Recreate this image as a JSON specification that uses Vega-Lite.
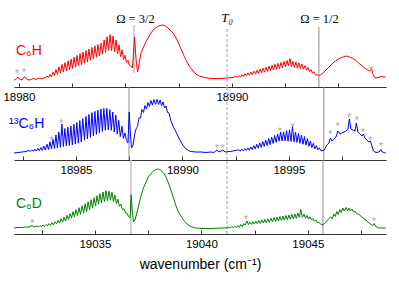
{
"$schema": "https://vega.github.io/schema/vega-lite/v6.json",
"padding": {"left": 2, "top": 0, "right": 0, "bottom": 0},
"background": "white",
"spacing": 0,
"bounds": "flush",
"config": {"view": {"stroke": null},
 "axis": {"grid": false, "domainColor": "#333333", "tickColor": "#333333", "tickSize": -4, "labelPadding": 8, "labelFont": "Liberation Sans", "labelFontSize": 11.5, "labelColor": "#000000", "labelFlush": false, "labelOverlap": false, "format": "d"}},
"datasets": {
"s1": [{"w":18979.77,"i":7},{"w":18979.86,"i":7.5},{"w":18979.96,"i":10},{"w":18980.05,"i":7.5},{"w":18980.15,"i":7},{"w":18980.26,"i":10.5},{"w":18980.38,"i":7.5},{"w":18980.52,"i":7},{"w":18980.66,"i":8.5},{"w":18980.80,"i":7.5},{"w":18980.94,"i":9},{"w":18981.08,"i":8},{"w":18981.23,"i":9.5},
{"w":18981.32,"i":11},{"w":18981.39,"i":9.4},{"w":18981.46,"i":12.5},{"w":18981.53,"i":10.2},{"w":18981.60,"i":14.8},{"w":18981.67,"i":11.4},{"w":18981.74,"i":17.5},{"w":18981.81,"i":12.6},{"w":18981.88,"i":20.2},{"w":18981.95,"i":13.8},{"w":18982.02,"i":22.6},{"w":18982.09,"i":15},{"w":18982.16,"i":24.4},{"w":18982.24,"i":16.2},{"w":18982.31,"i":26.2},{"w":18982.38,"i":17.4},{"w":18982.45,"i":28},{"w":18982.52,"i":18.6},{"w":18982.59,"i":29.8},{"w":18982.66,"i":19.8},{"w":18982.73,"i":31.6},{"w":18982.80,"i":21},{"w":18982.87,"i":33.4},{"w":18982.94,"i":22.2},{"w":18983.01,"i":35},{"w":18983.08,"i":23.8},{"w":18983.15,"i":36.5},{"w":18983.22,"i":25.2},{"w":18983.29,"i":38},{"w":18983.36,"i":26.8},{"w":18983.43,"i":39.5},{"w":18983.50,"i":28.2},{"w":18983.57,"i":41},{"w":18983.64,"i":29.8},{"w":18983.71,"i":42.5},{"w":18983.78,"i":31.2},{"w":18983.86,"i":44},{"w":18983.93,"i":32.9},{"w":18984.00,"i":47},{"w":18984.07,"i":34.7},{"w":18984.14,"i":50.3},{"w":18984.21,"i":36.7},{"w":18984.28,"i":52.5},{"w":18984.35,"i":36.4},{"w":18984.42,"i":51},{"w":18984.49,"i":35},{"w":18984.56,"i":47},{"w":18984.63,"i":33},{"w":18984.70,"i":42.2},{"w":18984.77,"i":30.4},{"w":18984.84,"i":37.2},{"w":18984.91,"i":27.6},{"w":18984.98,"i":31.8},{"w":18985.05,"i":24.5},{"w":18985.12,"i":26.7},{"w":18985.19,"i":21.7},
{"w":18985.26,"i":21},{"w":18985.33,"i":19},{"w":18985.43,"i":50},{"w":18985.50,"i":27},{"w":18985.57,"i":15},{"w":18985.64,"i":23},{"w":18985.73,"i":34},{"w":18985.87,"i":41},{"w":18986.01,"i":47},{"w":18986.20,"i":54},{"w":18986.34,"i":58},{"w":18986.48,"i":60},{"w":18986.62,"i":61.5},{"w":18986.77,"i":62},{"w":18986.91,"i":60.5},{"w":18987.05,"i":58},{"w":18987.19,"i":55},{"w":18987.33,"i":51},{"w":18987.47,"i":45},{"w":18987.61,"i":38},{"w":18987.75,"i":31},{"w":18987.89,"i":25},{"w":18988.03,"i":20},{"w":18988.17,"i":16},{"w":18988.31,"i":13},{"w":18988.46,"i":11},{"w":18988.64,"i":10},{"w":18988.83,"i":9},{"w":18989.02,"i":8.5},{"w":18989.25,"i":8.5},{"w":18989.49,"i":8.5},{"w":18989.77,"i":9},{"w":18990.05,"i":9.5},
{"w":18990.19,"i":10.5},{"w":18990.26,"i":9.6},{"w":18990.33,"i":11.4},{"w":18990.40,"i":9.95},{"w":18990.47,"i":12.3},{"w":18990.54,"i":10.5},{"w":18990.61,"i":13.2},{"w":18990.68,"i":11.1},{"w":18990.75,"i":14.1},{"w":18990.82,"i":11.7},{"w":18990.89,"i":15},{"w":18990.96,"i":12.35},{"w":18991.03,"i":15.9},{"w":18991.11,"i":12.9},{"w":18991.18,"i":16.8},{"w":18991.25,"i":13.5},{"w":18991.32,"i":17.7},{"w":18991.39,"i":14.15},{"w":18991.46,"i":18.7},{"w":18991.53,"i":14.85},{"w":18991.60,"i":19.75},{"w":18991.67,"i":15.65},{"w":18991.74,"i":20.8},{"w":18991.81,"i":16.35},{"w":18991.88,"i":21.8},{"w":18991.95,"i":17},{"w":18992.02,"i":22.7},{"w":18992.09,"i":17.6},{"w":18992.16,"i":23.6},{"w":18992.23,"i":18.2},{"w":18992.30,"i":24.5},{"w":18992.37,"i":19},{"w":18992.44,"i":25.5},{"w":18992.51,"i":20.1},{"w":18992.58,"i":26.6},{"w":18992.65,"i":21},{"w":18992.72,"i":28.5},{"w":18992.79,"i":20.1},{"w":18992.86,"i":25.75},{"w":18992.93,"i":19.4},{"w":18993.00,"i":25},{"w":18993.07,"i":18.8},{"w":18993.14,"i":24.1},{"w":18993.21,"i":18.55},{"w":18993.28,"i":23},{"w":18993.35,"i":17.75},{"w":18993.43,"i":21.5},{"w":18993.50,"i":16.75},{"w":18993.57,"i":19.6},{"w":18993.64,"i":15.25},{"w":18993.71,"i":17.5},{"w":18993.78,"i":13.75},{"w":18993.85,"i":15.4},{"w":18993.92,"i":12.25},
{"w":18994.02,"i":12},{"w":18994.11,"i":11.5},{"w":18994.23,"i":13},{"w":18994.37,"i":16},{"w":18994.51,"i":19},{"w":18994.65,"i":22},{"w":18994.79,"i":25},{"w":18994.93,"i":27},{"w":18995.08,"i":29},{"w":18995.22,"i":30},{"w":18995.36,"i":31},{"w":18995.50,"i":30},{"w":18995.64,"i":29},{"w":18995.78,"i":27},{"w":18995.92,"i":24.5},{"w":18996.06,"i":22},{"w":18996.20,"i":19.5},{"w":18996.34,"i":17.5},{"w":18996.46,"i":16},{"w":18996.55,"i":18.5},{"w":18996.63,"i":12},{"w":18996.72,"i":9},{"w":18996.86,"i":9.5},{"w":18997.00,"i":10.5},{"w":18997.14,"i":10},{"w":18997.22,"i":10}],
"s2": [{"w":18982.09,"i":7},{"w":18982.28,"i":7.5},{"w":18982.47,"i":8},{"w":18982.65,"i":8.5},
{"w":18982.79,"i":9.5},{"w":18982.86,"i":8.6},{"w":18982.93,"i":10.1},{"w":18983.00,"i":8.8},{"w":18983.07,"i":10.8},{"w":18983.14,"i":9},{"w":18983.21,"i":11.6},{"w":18983.28,"i":9.3},{"w":18983.35,"i":12.5},{"w":18983.42,"i":9.6},{"w":18983.49,"i":14},{"w":18983.56,"i":9.9},{"w":18983.64,"i":15.8},{"w":18983.71,"i":10.5},{"w":18983.78,"i":18.2},{"w":18983.85,"i":11},{"w":18983.92,"i":21},{"w":18983.99,"i":11.5},{"w":18984.06,"i":25},{"w":18984.13,"i":12},{"w":18984.20,"i":28},{"w":18984.27,"i":12.7},{"w":18984.34,"i":36},{"w":18984.41,"i":13.5},{"w":18984.48,"i":31.5},{"w":18984.55,"i":14},{"w":18984.62,"i":32.8},{"w":18984.69,"i":14.5},{"w":18984.76,"i":34},{"w":18984.83,"i":15.1},{"w":18984.90,"i":35.8},{"w":18984.97,"i":16},{"w":18985.04,"i":37.6},{"w":18985.11,"i":16.8},{"w":18985.18,"i":39.4},{"w":18985.25,"i":18.2},{"w":18985.32,"i":41.4},{"w":18985.40,"i":19.8},{"w":18985.47,"i":43.5},{"w":18985.54,"i":21.2},{"w":18985.61,"i":45.6},{"w":18985.68,"i":22.7},{"w":18985.75,"i":47.4},{"w":18985.82,"i":24.2},{"w":18985.89,"i":48.6},{"w":18985.96,"i":25.7},{"w":18986.03,"i":49.8},{"w":18986.10,"i":27.2},{"w":18986.17,"i":51},{"w":18986.24,"i":28.6},{"w":18986.31,"i":51.6},{"w":18986.38,"i":29.8},{"w":18986.45,"i":51.6},{"w":18986.52,"i":30},{"w":18986.59,"i":50.4},{"w":18986.66,"i":29.7},{"w":18986.73,"i":48},{"w":18986.80,"i":28},{"w":18986.87,"i":45},{"w":18986.94,"i":25.8},{"w":18987.01,"i":39.6},{"w":18987.08,"i":23.4},{"w":18987.16,"i":33.8},{"w":18987.23,"i":21.7},{"w":18987.30,"i":27},{"w":18987.37,"i":19.5},
{"w":18987.44,"i":17},{"w":18987.50,"i":48},{"w":18987.56,"i":25},{"w":18987.61,"i":12},{"w":18987.68,"i":15},{"w":18987.75,"i":25},
{"w":18987.82,"i":31},{"w":18987.89,"i":33.5},{"w":18987.96,"i":42},{"w":18988.03,"i":42},{"w":18988.10,"i":50.5},{"w":18988.17,"i":47.5},{"w":18988.24,"i":54.5},{"w":18988.31,"i":51},{"w":18988.38,"i":57.5},{"w":18988.45,"i":53.5},{"w":18988.52,"i":59.5},{"w":18988.59,"i":55},{"w":18988.66,"i":60.5},{"w":18988.74,"i":55.7},{"w":18988.81,"i":60.7},{"w":18988.88,"i":55.5},{"w":18988.95,"i":60},{"w":18989.02,"i":54.3},{"w":18989.09,"i":58},{"w":18989.16,"i":52},{"w":18989.23,"i":54},{"w":18989.30,"i":47.5},{"w":18989.37,"i":47},
{"w":18989.46,"i":39},{"w":18989.58,"i":33},{"w":18989.70,"i":28},{"w":18989.81,"i":23},{"w":18989.93,"i":18},{"w":18990.05,"i":14},{"w":18990.17,"i":11},{"w":18990.28,"i":9.5},{"w":18990.40,"i":8.5},{"w":18990.64,"i":8},{"w":18990.87,"i":8},{"w":18991.10,"i":7.5},{"w":18991.34,"i":8},{"w":18991.48,"i":7.5},{"w":18991.62,"i":10},{"w":18991.72,"i":8},{"w":18991.90,"i":10},{"w":18992.00,"i":8},{"w":18992.19,"i":8.5},{"w":18992.37,"i":9},
{"w":18992.65,"i":10.2},{"w":18992.72,"i":8.9},{"w":18992.79,"i":10.75},{"w":18992.86,"i":9.2},{"w":18992.93,"i":11.35},{"w":18993.00,"i":9.55},{"w":18993.07,"i":12.1},{"w":18993.14,"i":9.85},{"w":18993.21,"i":13},{"w":18993.28,"i":10.35},{"w":18993.35,"i":14.35},{"w":18993.42,"i":11.15},{"w":18993.49,"i":15.7},{"w":18993.56,"i":11.85},{"w":18993.63,"i":17.05},{"w":18993.70,"i":12.65},{"w":18993.77,"i":18.5},{"w":18993.84,"i":13.55},{"w":18993.91,"i":20},{"w":18993.98,"i":14.45},{"w":18994.05,"i":21.5},{"w":18994.12,"i":15.35},{"w":18994.19,"i":23},{"w":18994.26,"i":16.5},{"w":18994.33,"i":24.5},{"w":18994.40,"i":17.6},{"w":18994.47,"i":26},{"w":18994.54,"i":18.85},{"w":18994.61,"i":28},{"w":18994.68,"i":19},{"w":18994.75,"i":28.2},{"w":18994.82,"i":19},{"w":18994.89,"i":29.3},{"w":18994.96,"i":18.75},{"w":18995.03,"i":30.2},{"w":18995.10,"i":18.5},{"w":18995.17,"i":33.5},{"w":18995.24,"i":18.1},{"w":18995.31,"i":28},{"w":18995.38,"i":17.55},{"w":18995.45,"i":26.5},{"w":18995.52,"i":16.65},{"w":18995.59,"i":25},{"w":18995.66,"i":15.75},{"w":18995.73,"i":23.5},{"w":18995.80,"i":14.85},{"w":18995.87,"i":21.4},{"w":18995.94,"i":13.6},{"w":18996.01,"i":19},{"w":18996.08,"i":12.4},{"w":18996.15,"i":16.6},{"w":18996.22,"i":11.2},{"w":18996.29,"i":14.3},{"w":18996.36,"i":10.25},{"w":18996.43,"i":12.2},{"w":18996.50,"i":9.35},
{"w":18996.62,"i":9.5},{"w":18996.69,"i":11},{"w":18996.78,"i":15},{"w":18996.88,"i":17},{"w":18996.95,"i":22},{"w":18997.02,"i":19},{"w":18997.11,"i":21},{"w":18997.21,"i":23},{"w":18997.30,"i":29},{"w":18997.40,"i":26},{"w":18997.49,"i":27},{"w":18997.58,"i":28},{"w":18997.68,"i":29},{"w":18997.77,"i":30.5},{"w":18997.84,"i":41},{"w":18997.91,"i":31},{"w":18998.01,"i":30},{"w":18998.10,"i":29},{"w":18998.17,"i":37},{"w":18998.24,"i":28},{"w":18998.33,"i":26},{"w":18998.43,"i":24},{"w":18998.50,"i":26},{"w":18998.57,"i":22},{"w":18998.66,"i":20},{"w":18998.76,"i":18},{"w":18998.83,"i":19},{"w":18998.90,"i":14},{"w":18998.97,"i":9},{"w":18999.09,"i":7.5},{"w":18999.23,"i":8},{"w":18999.32,"i":10.5},{"w":18999.39,"i":8},{"w":18999.55,"i":7}],
"s3": [{"w":19031.20,"i":6},{"w":19031.39,"i":6.5},{"w":19031.58,"i":6.5},{"w":19031.76,"i":7},{"w":19031.90,"i":7},{"w":19032.05,"i":8.5},{"w":19032.14,"i":7},
{"w":19032.28,"i":8},{"w":19032.35,"i":7},{"w":19032.42,"i":8.5},{"w":19032.49,"i":7.2},{"w":19032.56,"i":9},{"w":19032.63,"i":7.6},{"w":19032.70,"i":9.5},{"w":19032.77,"i":8.2},{"w":19032.84,"i":10.4},{"w":19032.91,"i":8.7},{"w":19032.98,"i":11.3},{"w":19033.05,"i":9.2},{"w":19033.13,"i":12.2},{"w":19033.20,"i":10.2},{"w":19033.27,"i":13.6},{"w":19033.34,"i":11},{"w":19033.41,"i":15.3},{"w":19033.48,"i":11.7},{"w":19033.55,"i":17},{"w":19033.62,"i":13},{"w":19033.69,"i":18.7},{"w":19033.76,"i":14.3},{"w":19033.83,"i":20.4},{"w":19033.90,"i":16.2},{"w":19033.97,"i":22.3},{"w":19034.04,"i":17.2},{"w":19034.11,"i":24.3},{"w":19034.18,"i":18.4},{"w":19034.25,"i":26.3},{"w":19034.32,"i":19.6},{"w":19034.40,"i":28.3},{"w":19034.47,"i":20.8},{"w":19034.54,"i":30.3},{"w":19034.61,"i":22.3},{"w":19034.68,"i":32.3},{"w":19034.75,"i":24.2},{"w":19034.82,"i":34.3},{"w":19034.89,"i":26.1},{"w":19034.96,"i":36.3},{"w":19035.03,"i":28},{"w":19035.10,"i":38.3},{"w":19035.17,"i":29.9},{"w":19035.24,"i":40.3},{"w":19035.31,"i":31.2},{"w":19035.38,"i":42},{"w":19035.45,"i":32.4},{"w":19035.52,"i":43.5},{"w":19035.59,"i":33.3},{"w":19035.66,"i":42.9},{"w":19035.73,"i":33.8},{"w":19035.80,"i":41.6},{"w":19035.87,"i":32.5},{"w":19035.94,"i":38.9},{"w":19036.01,"i":30.4},{"w":19036.08,"i":34.8},{"w":19036.15,"i":27.7},{"w":19036.22,"i":30},{"w":19036.29,"i":24.4},{"w":19036.37,"i":25.2},{"w":19036.44,"i":20.8},{"w":19036.51,"i":20.7},{"w":19036.58,"i":17.4},
{"w":19036.65,"i":16},{"w":19036.70,"i":39},{"w":19036.75,"i":24},{"w":19036.81,"i":12},{"w":19036.88,"i":14},{"w":19036.97,"i":21},{"w":19037.07,"i":30},{"w":19037.16,"i":38},{"w":19037.28,"i":46},{"w":19037.40,"i":52},{"w":19037.51,"i":57},{"w":19037.63,"i":60.5},{"w":19037.75,"i":63},{"w":19037.87,"i":64.5},{"w":19037.98,"i":65},{"w":19038.10,"i":63.5},{"w":19038.22,"i":61},{"w":19038.34,"i":57},{"w":19038.45,"i":51},{"w":19038.57,"i":44},{"w":19038.69,"i":36},{"w":19038.81,"i":28},{"w":19038.92,"i":22},{"w":19039.04,"i":18},{"w":19039.16,"i":14},{"w":19039.28,"i":11},{"w":19039.42,"i":8.5},{"w":19039.56,"i":7},{"w":19039.74,"i":6},{"w":19039.98,"i":5.5},{"w":19040.45,"i":5.5},{"w":19040.92,"i":6},{"w":19041.20,"i":6},
{"w":19041.29,"i":7},{"w":19041.36,"i":5.95},{"w":19041.43,"i":7.5},{"w":19041.50,"i":6.15},{"w":19041.57,"i":7.9},{"w":19041.64,"i":6.4},{"w":19041.71,"i":8.4},{"w":19041.78,"i":6.7},{"w":19041.85,"i":9.5},{"w":19041.92,"i":7.4},{"w":19041.99,"i":10.4},{"w":19042.06,"i":8.9},{"w":19042.14,"i":13},{"w":19042.21,"i":9.4},{"w":19042.28,"i":11.8},{"w":19042.35,"i":9.6},{"w":19042.42,"i":12.2},{"w":19042.49,"i":9.9},{"w":19042.56,"i":12.9},{"w":19042.63,"i":10.2},{"w":19042.70,"i":13.5},{"w":19042.77,"i":10.5},{"w":19042.84,"i":14.1},{"w":19042.91,"i":10.9},{"w":19042.98,"i":14.6},{"w":19043.05,"i":11.2},{"w":19043.12,"i":15.1},{"w":19043.19,"i":11.7},{"w":19043.27,"i":15.7},{"w":19043.34,"i":12.2},{"w":19043.41,"i":16.3},{"w":19043.48,"i":12.5},{"w":19043.55,"i":16.8},{"w":19043.62,"i":12.9},{"w":19043.69,"i":17.4},{"w":19043.76,"i":13.4},{"w":19043.83,"i":18},{"w":19043.90,"i":13.8},{"w":19043.97,"i":18.5},{"w":19044.04,"i":14.2},{"w":19044.11,"i":19},{"w":19044.18,"i":14.7},{"w":19044.25,"i":19.6},{"w":19044.32,"i":15.1},{"w":19044.39,"i":20.2},{"w":19044.46,"i":15.6},{"w":19044.53,"i":21},{"w":19044.60,"i":16.6},{"w":19044.67,"i":24.5},{"w":19044.74,"i":16.7},{"w":19044.82,"i":19.8},{"w":19044.89,"i":15.7},{"w":19044.96,"i":18.6},{"w":19045.03,"i":14.9},{"w":19045.10,"i":17.2},{"w":19045.17,"i":13.9},{"w":19045.24,"i":15.7},{"w":19045.31,"i":12.8},{"w":19045.38,"i":14},{"w":19045.45,"i":11.3},{"w":19045.52,"i":11.6},{"w":19045.59,"i":10},
{"w":19045.71,"i":9},{"w":19045.80,"i":11},{"w":19045.89,"i":13},{"w":19045.99,"i":15.5},{"w":19046.08,"i":17},{"w":19046.15,"i":15},{"w":19046.22,"i":20},{"w":19046.29,"i":17.5},{"w":19046.36,"i":22.5},{"w":19046.43,"i":19.5},{"w":19046.50,"i":24.5},{"w":19046.57,"i":21.5},{"w":19046.64,"i":26},{"w":19046.71,"i":23},{"w":19046.79,"i":26.5},{"w":19046.86,"i":23.5},{"w":19046.93,"i":26},{"w":19047.00,"i":23},{"w":19047.07,"i":25},{"w":19047.14,"i":22},{"w":19047.21,"i":23},{"w":19047.28,"i":20.5},{"w":19047.40,"i":19.5},{"w":19047.54,"i":17},{"w":19047.68,"i":14.5},{"w":19047.82,"i":12},{"w":19047.96,"i":9.5},{"w":19048.05,"i":8.5},{"w":19048.12,"i":10.5},{"w":19048.19,"i":7.5},{"w":19048.34,"i":6},{"w":19048.48,"i":6},{"w":19048.66,"i":6}],
"rules": [{"p":1,"w":18985.40,"lo":14,"hi":62,"k":"light"},{"p":1,"w":18994.08,"lo":0,"hi":60,"k":"dark"},{"p":1,"w":18989.77,"lo":0,"hi":60,"k":"dash"},
{"p":2,"w":18987.49,"lo":0,"hi":73,"k":"dark"},{"p":2,"w":18996.64,"lo":0,"hi":73,"k":"dark"},{"p":2,"w":18992.09,"lo":0,"hi":73,"k":"dash"},
{"p":3,"w":19036.69,"lo":0,"hi":74,"k":"light"},{"p":3,"w":19045.71,"lo":0,"hi":74,"k":"dark"},{"p":3,"w":19041.20,"lo":0,"hi":74,"k":"dash"}],
"stars": [{"p":1,"w":18979.91,"i":15},{"p":1,"w":18980.24,"i":16},{"p":1,"w":18996.53,"i":18},
{"p":2,"w":18983.86,"i":20.7},{"p":2,"w":18984.30,"i":37.7},{"p":2,"w":18991.62,"i":13.3},{"p":2,"w":18991.89,"i":13.3},{"p":2,"w":18994.58,"i":30},{"p":2,"w":18995.18,"i":34.3},{"p":2,"w":18996.94,"i":26.7},{"p":2,"w":18997.29,"i":35},{"p":2,"w":18997.83,"i":44.3},{"p":2,"w":18998.18,"i":40.7},{"p":2,"w":18998.46,"i":29.3},{"p":2,"w":18998.82,"i":20.7},{"p":2,"w":18999.32,"i":15},
{"p":3,"w":19032.05,"i":12},{"p":3,"w":19042.09,"i":16},{"p":3,"w":19048.10,"i":14}],
"labels": [{"p":1,"w":18979.86,"i":32,"t":"C₆H"},{"p":2,"w":18981.86,"i":32,"t":"¹³C₆H"},{"p":3,"w":19031.29,"i":26,"t":"C₆D"}],
"notes": [{"w":18985.47,"i":64,"t":"Ω = 3/2","k":"o"},{"w":18994.11,"i":64,"t":"Ω = 1/2","k":"o"},{"w":18989.77,"i":65,"t":"T₀","k":"t"}]
},
"vconcat": [
{"width": 372, "height": 87,
 "encoding": {"x": {"field": "w", "type": "quantitative", "scale": {"domain": [18979.77, 18997.23], "nice": false, "zero": false}, "axis": {"values": [18980, 18982.5, 18985, 18987.5, 18990, 18992.5, 18995], "labelExpr": "datum.value % 10 === 0 ? datum.label : ''", "title": null}},
  "y": {"field": "i", "type": "quantitative", "scale": {"domain": [0, 87], "nice": false, "zero": false}, "axis": null}},
 "layer": [
  {"data": {"name": "rules"}, "transform": [{"filter": "datum.p === 1 && datum.k === 'light'"}], "mark": {"type": "rule", "color": "#c4c4c4", "strokeWidth": 1.6}, "encoding": {"y": {"field": "lo", "type": "quantitative", "scale": {"domain": [0, 87], "nice": false, "zero": false}, "axis": null}, "y2": {"field": "hi"}}},
  {"data": {"name": "rules"}, "transform": [{"filter": "datum.p === 1 && datum.k === 'dark'"}], "mark": {"type": "rule", "color": "#8c8c8c", "strokeWidth": 1}, "encoding": {"y": {"field": "lo", "type": "quantitative", "scale": {"domain": [0, 87], "nice": false, "zero": false}, "axis": null}, "y2": {"field": "hi"}}},
  {"data": {"name": "rules"}, "transform": [{"filter": "datum.p === 1 && datum.k === 'dash'"}], "mark": {"type": "rule", "color": "#c0c0c0", "strokeWidth": 1.5, "strokeDash": [3, 2]}, "encoding": {"y": {"field": "lo", "type": "quantitative", "scale": {"domain": [0, 87], "nice": false, "zero": false}, "axis": null}, "y2": {"field": "hi"}}},
  {"data": {"name": "s1"}, "mark": {"type": "line", "color": "#ff0000", "strokeWidth": 1}},
  {"data": {"name": "stars"}, "transform": [{"filter": "datum.p === 1"}], "mark": {"type": "text", "text": "*", "color": "#aaaaaa", "font": "Liberation Sans", "fontSize": 11, "baseline": "middle", "align": "center", "dy": 2}},
  {"data": {"name": "labels"}, "transform": [{"filter": "datum.p === 1"}], "mark": {"type": "text", "color": "#ff0000", "font": "Liberation Sans", "fontSize": 14, "align": "left", "baseline": "alphabetic"}, "encoding": {"text": {"field": "t"}}},
  {"data": {"name": "notes"}, "transform": [{"filter": "datum.k === 'o'"}], "mark": {"type": "text", "color": "#000000", "font": "Liberation Serif", "fontSize": 12.5, "align": "center", "baseline": "alphabetic"}, "encoding": {"text": {"field": "t"}}},
  {"data": {"name": "notes"}, "transform": [{"filter": "datum.k === 't'"}], "mark": {"type": "text", "color": "#000000", "font": "Liberation Serif", "fontSize": 13, "fontStyle": "italic", "align": "center", "baseline": "alphabetic"}, "encoding": {"text": {"field": "t"}}}
 ]},
{"width": 372, "height": 73,
 "encoding": {"x": {"field": "w", "type": "quantitative", "scale": {"domain": [18982.09, 18999.56], "nice": false, "zero": false}, "axis": {"values": [18982.5, 18985, 18987.5, 18990, 18992.5, 18995, 18997.5], "labelExpr": "datum.value % 5 === 0 ? datum.label : ''", "title": null}},
  "y": {"field": "i", "type": "quantitative", "scale": {"domain": [0, 73], "nice": false, "zero": false}, "axis": null}},
 "layer": [
  {"data": {"name": "rules"}, "transform": [{"filter": "datum.p === 2 && datum.k === 'dark'"}], "mark": {"type": "rule", "color": "#8c8c8c", "strokeWidth": 1}, "encoding": {"y": {"field": "lo", "type": "quantitative", "scale": {"domain": [0, 73], "nice": false, "zero": false}, "axis": null}, "y2": {"field": "hi"}}},
  {"data": {"name": "rules"}, "transform": [{"filter": "datum.p === 2 && datum.k === 'dash'"}], "mark": {"type": "rule", "color": "#c0c0c0", "strokeWidth": 1.5, "strokeDash": [3, 2]}, "encoding": {"y": {"field": "lo", "type": "quantitative", "scale": {"domain": [0, 73], "nice": false, "zero": false}, "axis": null}, "y2": {"field": "hi"}}},
  {"data": {"name": "s2"}, "mark": {"type": "line", "color": "#0000ff", "strokeWidth": 1}},
  {"data": {"name": "stars"}, "transform": [{"filter": "datum.p === 2"}], "mark": {"type": "text", "text": "*", "color": "#aaaaaa", "font": "Liberation Sans", "fontSize": 11, "baseline": "middle", "align": "center", "dy": 2}},
  {"data": {"name": "labels"}, "transform": [{"filter": "datum.p === 2"}], "mark": {"type": "text", "color": "#0000ff", "font": "Liberation Sans", "fontSize": 14, "align": "left", "baseline": "alphabetic"}, "encoding": {"text": {"field": "t"}}}
 ]},
{"width": 372, "height": 74,
 "encoding": {"x": {"field": "w", "type": "quantitative", "scale": {"domain": [19031.20, 19048.67], "nice": false, "zero": false}, "axis": {"values": [19032.5, 19035, 19037.5, 19040, 19042.5, 19045, 19047.5], "labelExpr": "datum.value % 5 === 0 ? datum.label : ''", "title": "wavenumber (cm⁻¹)", "titleFont": "Liberation Sans", "titleFontSize": 14, "titleFontWeight": "normal", "titleColor": "#000000", "titlePadding": 8}},
  "y": {"field": "i", "type": "quantitative", "scale": {"domain": [0, 74], "nice": false, "zero": false}, "axis": null}},
 "layer": [
  {"data": {"name": "rules"}, "transform": [{"filter": "datum.p === 3 && datum.k === 'light'"}], "mark": {"type": "rule", "color": "#c4c4c4", "strokeWidth": 1.6}, "encoding": {"y": {"field": "lo", "type": "quantitative", "scale": {"domain": [0, 74], "nice": false, "zero": false}, "axis": null}, "y2": {"field": "hi"}}},
  {"data": {"name": "rules"}, "transform": [{"filter": "datum.p === 3 && datum.k === 'dark'"}], "mark": {"type": "rule", "color": "#8c8c8c", "strokeWidth": 1}, "encoding": {"y": {"field": "lo", "type": "quantitative", "scale": {"domain": [0, 74], "nice": false, "zero": false}, "axis": null}, "y2": {"field": "hi"}}},
  {"data": {"name": "rules"}, "transform": [{"filter": "datum.p === 3 && datum.k === 'dash'"}], "mark": {"type": "rule", "color": "#c0c0c0", "strokeWidth": 1.5, "strokeDash": [3, 2]}, "encoding": {"y": {"field": "lo", "type": "quantitative", "scale": {"domain": [0, 74], "nice": false, "zero": false}, "axis": null}, "y2": {"field": "hi"}}},
  {"data": {"name": "s3"}, "mark": {"type": "line", "color": "#008000", "strokeWidth": 1}},
  {"data": {"name": "stars"}, "transform": [{"filter": "datum.p === 3"}], "mark": {"type": "text", "text": "*", "color": "#aaaaaa", "font": "Liberation Sans", "fontSize": 11, "baseline": "middle", "align": "center", "dy": 2}},
  {"data": {"name": "labels"}, "transform": [{"filter": "datum.p === 3"}], "mark": {"type": "text", "color": "#008000", "font": "Liberation Sans", "fontSize": 14, "align": "left", "baseline": "alphabetic"}, "encoding": {"text": {"field": "t"}}}
 ]}
]
}
